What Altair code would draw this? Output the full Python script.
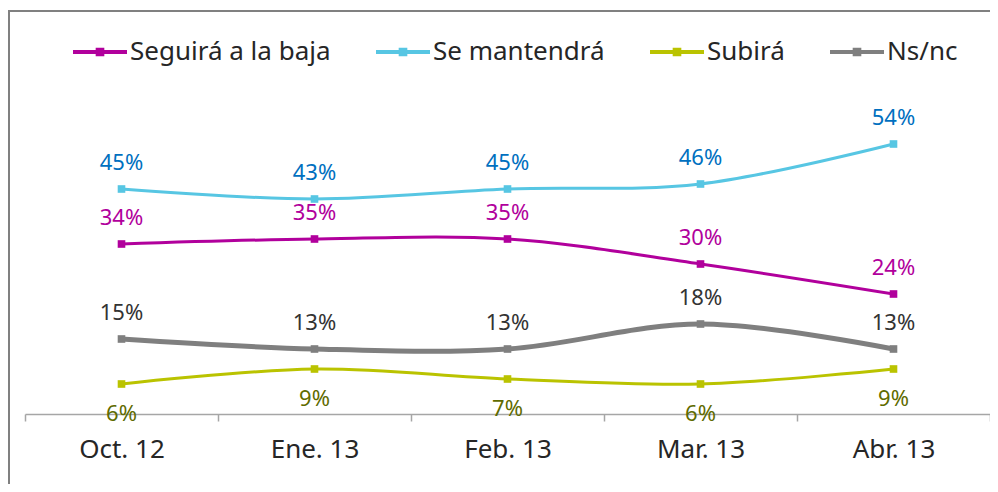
import altair as alt
import pandas as pd

# ---- data ----
months = ["Oct. 12", "Ene. 13", "Feb. 13", "Mar. 13", "Abr. 13"]
series = ["Seguirá a la baja", "Se mantendrá", "Subirá", "Ns/nc"]
seguira = [34, 35, 35, 30, 24]
mantendra = [45, 43, 45, 46, 54]
subira = [6, 9, 7, 6, 9]
nsnc = [15, 13, 13, 18, 13]

line_colors = ["#B1009C", "#57C6E3", "#BAC300", "#7F7F7F"]
text_colors = ["#B1009C", "#0070C0", "#5F6B00", "#333333"]

rows = []
for name, vals in zip(series, [seguira, mantendra, subira, nsnc]):
    for m, v in zip(months, vals):
        rows.append({"mes": m, "serie": name, "valor": v, "etiqueta": f"{v}%"})
df = pd.DataFrame(rows)

FONT = "Noto Sans"
W, H = 965, 300

x = alt.X("mes:N", sort=months, scale=alt.Scale(paddingInner=0, paddingOuter=0),
          axis=alt.Axis(title=None, labelAngle=0, labelFont=FONT, labelFontSize=26,
                        labelColor="#262626", labelPadding=15, tickSize=7,
                        tickBand="extent", tickColor="#A6A6A6", domainColor="#A6A6A6",
                        domainWidth=1.5, tickWidth=1.5, grid=False))
y = alt.Y("valor:Q", scale=alt.Scale(domain=[0, 60]), axis=None)

base = alt.Chart(df)

lines = base.mark_line(interpolate="cardinal").encode(
    x=x, y=y,
    color=alt.Color("serie:N", scale=alt.Scale(domain=series, range=line_colors), legend=None),
    strokeWidth=alt.condition(alt.datum.serie == "Ns/nc", alt.value(5), alt.value(3)),
    detail="serie:N",
)

legend_path = ("M-1,-0.07H1V0.07H-1Z "
               "M-0.16,-0.16H0.16V0.16H-0.16Z")

points = base.mark_point(shape="square", filled=True, size=58, opacity=1).encode(
    x=x, y=y,
    color=alt.Color("serie:N", scale=alt.Scale(domain=series, range=line_colors),
                    legend=alt.Legend(title=None, orient="none", direction="horizontal",
                                      legendX=48, legendY=-89, columns=4,
                                      columnPadding=45, symbolType=legend_path,
                                      symbolSize=2916, symbolStrokeWidth=0,
                                      labelFont=FONT, labelFontSize=26,
                                      labelColor="#262626", labelOffset=3,
                                      labelLimit=400, padding=0)),
)

above = base.transform_filter(alt.datum.serie != "Subirá").mark_text(
    font=FONT, fontSize=22, baseline="alphabetic", dy=-19
).encode(
    x=x, y=y, text="etiqueta:N",
    color=alt.Color("serie:N", scale=alt.Scale(domain=series, range=text_colors), legend=None),
)
below = base.transform_filter(alt.datum.serie == "Subirá").mark_text(
    font=FONT, fontSize=22, baseline="alphabetic", dy=37
).encode(
    x=x, y=y, text="etiqueta:N",
    color=alt.Color("serie:N", scale=alt.Scale(domain=series, range=text_colors), legend=None),
)

# outer frame (only its left and top sides are inside the picture)
frame_left = alt.Chart().mark_rule(color="#808080", strokeWidth=2).encode(
    x=alt.value(-16), y=alt.value(-103), y2=alt.value(420))
frame_top = alt.Chart().mark_rule(color="#808080", strokeWidth=2).encode(
    x=alt.value(-17), x2=alt.value(1000), y=alt.value(-103))

chart = alt.layer(frame_left, frame_top, lines, points, above, below).resolve_scale(
    color="independent"
).properties(
    width=W, height=H,
    autosize=alt.AutoSizeParams(type="none"),
    padding={"left": 17, "top": 106, "right": 0, "bottom": 70},
).configure(background="white").configure_view(stroke=None, strokeWidth=0)

chart.save("out.html", embed_options={"renderer": "svg", "actions": False})
